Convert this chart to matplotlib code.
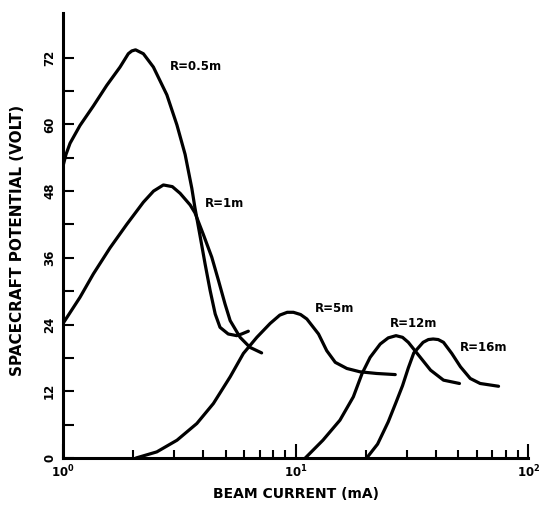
import numpy as np
import matplotlib
matplotlib.use("Agg")
import matplotlib.pyplot as plt
from matplotlib.ticker import FixedLocator, NullFormatter

# curves: beam current (mA) vs spacecraft potential (V)
r05_x = [1.0, 1.03, 1.072, 1.183, 1.35, 1.541, 1.758, 1.908, 1.975, 2.05, 2.215, 2.446, 2.795, 3.087,
         3.348, 3.578, 3.69, 3.88, 4.08, 4.29, 4.51, 4.73, 5.13, 5.58, 5.86, 6.26]
r05_y = [52.5, 54.6, 56.6, 59.8, 63.3, 67.0, 70.3, 72.7, 73.2, 73.4, 72.7, 70.3, 65.3, 59.9,
         54.6, 48.5, 45.0, 40.0, 34.9, 30.1, 25.9, 23.5, 22.3, 22.0, 22.3, 22.8]

r1_x = [1.0, 1.183, 1.35, 1.593, 1.878, 2.215, 2.45, 2.7, 2.95, 3.186, 3.52, 3.69, 4.01,
        4.36, 4.66, 4.97, 5.23, 5.77, 6.36, 7.14]
r1_y = [24.2, 28.9, 33.1, 37.8, 42.0, 46.0, 48.0, 49.1, 48.8, 47.6, 45.5, 44.1, 40.2,
        36.1, 31.9, 27.7, 24.7, 21.7, 19.9, 18.9]

r5_x = [2.06, 2.53, 3.09, 3.76, 4.43, 5.23, 5.96, 6.81, 7.77, 8.55, 9.2, 9.78, 10.5, 11.17,
        12.54, 13.6, 14.8, 16.6, 18.9, 22.3, 26.8]
r5_y = [0.0, 1.1, 3.2, 6.2, 9.8, 14.6, 18.8, 21.7, 24.2, 25.7, 26.2, 26.2, 25.8, 25.0,
        22.3, 19.3, 17.2, 16.1, 15.5, 15.2, 15.0]

r12_x = [11.0, 13.1, 15.5, 17.7, 19.3, 20.9, 23.1, 25.0, 27.0, 28.8, 30.5, 33.3, 38.0, 43.2, 50.6]
r12_y = [0.0, 3.2, 6.8, 11.0, 15.2, 18.1, 20.5, 21.6, 22.0, 21.7, 20.8, 18.8, 15.8, 14.0, 13.4]

r16_x = [20.2, 22.5, 25.0, 27.0, 28.8, 30.5, 32.2, 35.3, 37.2, 39.0, 41.0, 43.2, 46.9, 51.1,
         56.3, 62.1, 74.5]
r16_y = [0.0, 2.5, 6.5, 10.0, 13.0, 16.2, 18.9, 20.8, 21.3, 21.4, 21.3, 20.8, 18.8, 16.4,
         14.3, 13.4, 12.9]

labels = ["R=0.5m", "R=1m", "R=5m", "R=12m", "R=16m"]
label_x = [2.89, 4.08, 12.1, 25.5, 51.0]
label_y = [70.4, 45.7, 26.9, 24.2, 19.9]

y_ticks = [0, 12, 24, 36, 48, 60, 72]
y_minor = [6, 18, 30, 42, 54, 66]
x_ticks = [1, 10, 100]
x_ticklabels = [r"$\mathbf{10^0}$", r"$\mathbf{10^1}$", r"$\mathbf{10^2}$"]

fig = plt.figure(figsize=(5.41, 5.09), dpi=100)
ax = fig.add_axes([0.1165, 0.1002, 0.860, 0.874])

for xs, ys in [(r05_x, r05_y), (r1_x, r1_y), (r5_x, r5_y), (r12_x, r12_y), (r16_x, r16_y)]:
    ax.plot(xs, ys, color="black", lw=2.3, solid_capstyle="round", solid_joinstyle="round")

for t, lx, ly in zip(labels, label_x, label_y):
    ax.text(lx, ly, t, fontsize=8.5, fontweight="bold", va="center", ha="left")

ax.set_xscale("log")
ax.set_xlim(1, 100)
ax.set_ylim(0, 80)

for s in ["top", "right"]:
    ax.spines[s].set_visible(False)
for s in ["left", "bottom"]:
    ax.spines[s].set_linewidth(2.2)

ax.xaxis.set_major_locator(FixedLocator(x_ticks))
ax.set_xticklabels(x_ticklabels)
minor = [m * d for d in (1, 10) for m in range(2, 10)]
ax.xaxis.set_minor_locator(FixedLocator(minor))
ax.xaxis.set_minor_formatter(NullFormatter())

ax.set_yticks(y_ticks)
ax.set_yticklabels([str(v) for v in y_ticks], rotation=90, va="center")
ax.yaxis.set_minor_locator(FixedLocator(y_minor))

ax.tick_params(axis="both", which="both", direction="in", width=1.5, labelsize=8.5)
ax.tick_params(axis="x", which="major", length=10, pad=4)
ax.tick_params(axis="x", which="minor", length=6)
ax.tick_params(axis="y", which="both", length=8, pad=5)
for lab in ax.get_yticklabels():
    lab.set_fontweight("bold")

ax.set_xlabel("BEAM CURRENT (mA)", fontsize=10, fontweight="bold", labelpad=5)
ax.set_ylabel("SPACECRAFT POTENTIAL (VOLT)", fontsize=11, fontweight="bold")
ax.yaxis.set_label_coords(-0.082, 0.49)

fig.savefig("out.png", dpi=100)
